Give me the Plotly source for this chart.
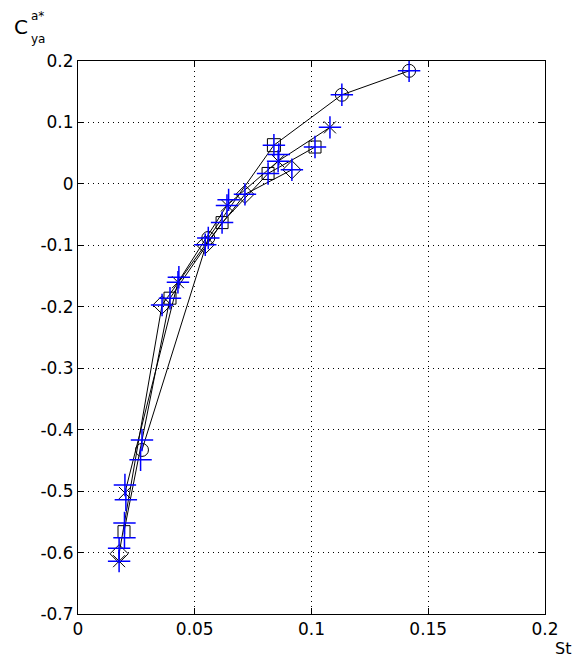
import plotly.graph_objects as go

# Series (black lines with markers)
circ_x = [0.0274, 0.0558, 0.0839, 0.1130, 0.1418]
circ_y = [-0.433, -0.088, 0.063, 0.145, 0.184]
sq_x = [0.0197, 0.0394, 0.0617, 0.0814, 0.1015]
sq_y = [-0.566, -0.186, -0.063, 0.017, 0.060]
dia_x = [0.0176, 0.0360, 0.0545, 0.0715, 0.0916]
dia_y = [-0.602, -0.197, -0.099, -0.017, 0.023]
xs_x = [0.0201, 0.0428, 0.0638, 0.0857, 0.1079]
xs_y = [-0.503, -0.160, -0.035, 0.037, 0.092]

# extra black x marker
xextra_x = [0.0176]
xextra_y = [-0.614]

# blue + markers
plus_x = [0.1418, 0.1130, 0.0839, 0.0558,
          0.1015, 0.0814, 0.0617, 0.0394,
          0.0916, 0.0715, 0.0545, 0.0360,
          0.1079, 0.0857, 0.0638, 0.0428,
          0.0645, 0.0432, 0.0860,
          0.0274, 0.0268, 0.0201, 0.0205, 0.0199, 0.0199, 0.0176, 0.0176]
plus_y = [0.184, 0.145, 0.063, -0.088,
          0.060, 0.017, -0.063, -0.186,
          0.023, -0.017, -0.099, -0.197,
          0.092, 0.037, -0.035, -0.160,
          -0.026, -0.152, 0.048,
          -0.417, -0.449, -0.490, -0.514, -0.552, -0.576, -0.593, -0.614]

x_ticks = [0, 0.05, 0.1, 0.15, 0.2]
x_labels = ["0", "0.05", "0.1", "0.15", "0.2"]
y_ticks = [0.2, 0.1, 0, -0.1, -0.2, -0.3, -0.4, -0.5, -0.6, -0.7]
y_labels = ["0.2", "0.1", "0", "-0.1", "-0.2", "-0.3", "-0.4", "-0.5", "-0.6", "-0.7"]

fig = go.Figure()
line = dict(color="black", width=1)
circ_symbols = ["circle-open", "circle-open", "square-open", "circle-open", "circle-open"]
for xx, yy, sym, size in [(circ_x, circ_y, circ_symbols, 13),
                          (sq_x, sq_y, "square-open", 12),
                          (dia_x, dia_y, "diamond-open", 14),
                          (xs_x, xs_y, "x-thin-open", 12)]:
    fig.add_trace(go.Scatter(x=xx, y=yy, mode="lines+markers", line=line,
                             marker=dict(symbol=sym, size=size, color="black",
                                         line=dict(color="black", width=1)),
                             showlegend=False, hoverinfo="skip"))
fig.add_trace(go.Scatter(x=xextra_x, y=xextra_y, mode="markers",
                         marker=dict(symbol="x-thin-open", size=12, color="black",
                                     line=dict(color="black", width=1)),
                         showlegend=False, hoverinfo="skip"))
fig.add_trace(go.Scatter(x=plus_x, y=plus_y, mode="markers",
                         marker=dict(symbol="cross-thin-open", size=16, color="blue",
                                     line=dict(color="#0000ff", width=1.5)),
                         showlegend=False, hoverinfo="skip"))

fam = "DejaVu Sans, Arial, sans-serif"
font = dict(family=fam, size=17, color="black")
axis_common = dict(showline=True, linecolor="black", linewidth=1, mirror="ticks",
                   ticks="inside", ticklen=6, tickcolor="black", showgrid=True,
                   gridcolor="black", gridwidth=1, griddash="1px,4px",
                   zeroline=False, tickfont=font)
fig.update_xaxes(range=[0, 0.2], tickvals=x_ticks, ticktext=x_labels, **axis_common)
fig.update_yaxes(range=[-0.7, 0.2], tickvals=y_ticks, ticktext=y_labels, **axis_common)

L, T, PW, PH = 78, 61, 467, 553


def px(xp):
    return (xp - L) / PW


def py(yp):
    return (T + PH - yp) / PH


fig.update_layout(
    width=582, height=659,
    margin=dict(l=78, r=37, t=61, b=45),
    plot_bgcolor="white", paper_bgcolor="white",
    font=font,
    annotations=[
        dict(text="C", x=px(30), y=py(27), xref="paper", yref="paper",
             xanchor="right", yanchor="middle", showarrow=False,
             font=dict(family=fam, size=20, color="black")),
        dict(text="a*", x=px(29), y=py(16), xref="paper", yref="paper",
             xanchor="left", yanchor="middle", showarrow=False,
             font=dict(family=fam, size=12, color="black")),
        dict(text="ya", x=px(29), y=py(39), xref="paper", yref="paper",
             xanchor="left", yanchor="middle", showarrow=False,
             font=dict(family=fam, size=12, color="black")),
        dict(text="St", x=px(553), y=py(649), xref="paper", yref="paper",
             xanchor="left", yanchor="middle", showarrow=False,
             font=dict(family=fam, size=16, color="black")),
    ],
)
fig.write_html("out.html",
               config={"displayModeBar": False},
               post_script="document.body.style.margin='0';"
                           "document.body.style.overflow='hidden';")
